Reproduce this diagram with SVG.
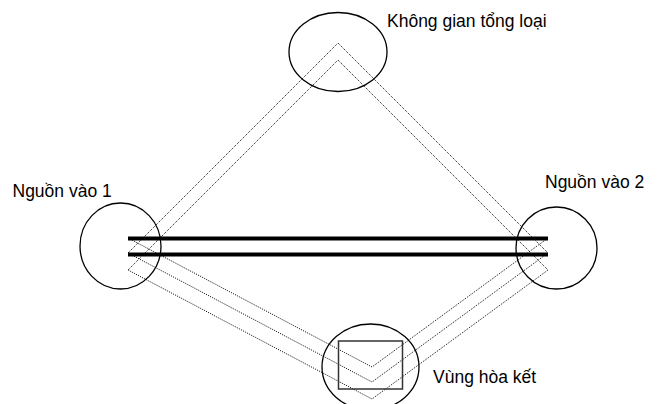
<svg xmlns="http://www.w3.org/2000/svg" width="659" height="404" viewBox="0 0 659 404">
<style>
.node{fill:none;stroke:#000;stroke-width:1.3}
.lbl{font-family:"Liberation Sans",Arial,sans-serif;font-size:17.5px;fill:#000}
.dot{fill:none;stroke:#000;stroke-width:1;stroke-dasharray:1 1.2}
.thick{stroke:#000;stroke-width:4;fill:none}
</style>
<rect width="659" height="404" fill="#fff"/>
<g id="connectors">
<polyline class="dot" points="128,253 338,43 548,253 372,382 128,253"/>
<polyline class="dot" points="128,270 338,60 548,270 372,399 128,270"/>
<polyline class="dot" points="128,238 372,367 548,238"/>
<line class="thick" x1="128" y1="238.5" x2="548" y2="238.5"/>
<line class="thick" x1="128" y1="254.5" x2="548" y2="254.5"/>
</g>
<g id="top">
<ellipse class="node" cx="338" cy="52" rx="49" ry="39.5"/>
<text class="lbl" x="387" y="27">Không gian tổng loại</text>
</g>
<g id="left">
<ellipse class="node" cx="120.5" cy="246" rx="40.5" ry="43"/>
<text class="lbl" x="12.5" y="197">Nguồn vào 1</text>
</g>
<g id="right">
<ellipse class="node" cx="556.5" cy="248" rx="40.5" ry="41"/>
<text class="lbl" x="545" y="188">Nguồn vào 2</text>
</g>
<g id="bottom">
<ellipse class="node" cx="370.5" cy="367" rx="48.5" ry="43"/>
<rect x="338.5" y="341" width="64" height="48" fill="none" stroke="#333" stroke-width="1.5"/>
<text class="lbl" x="433" y="383">Vùng hòa kết</text>
</g>
</svg>
